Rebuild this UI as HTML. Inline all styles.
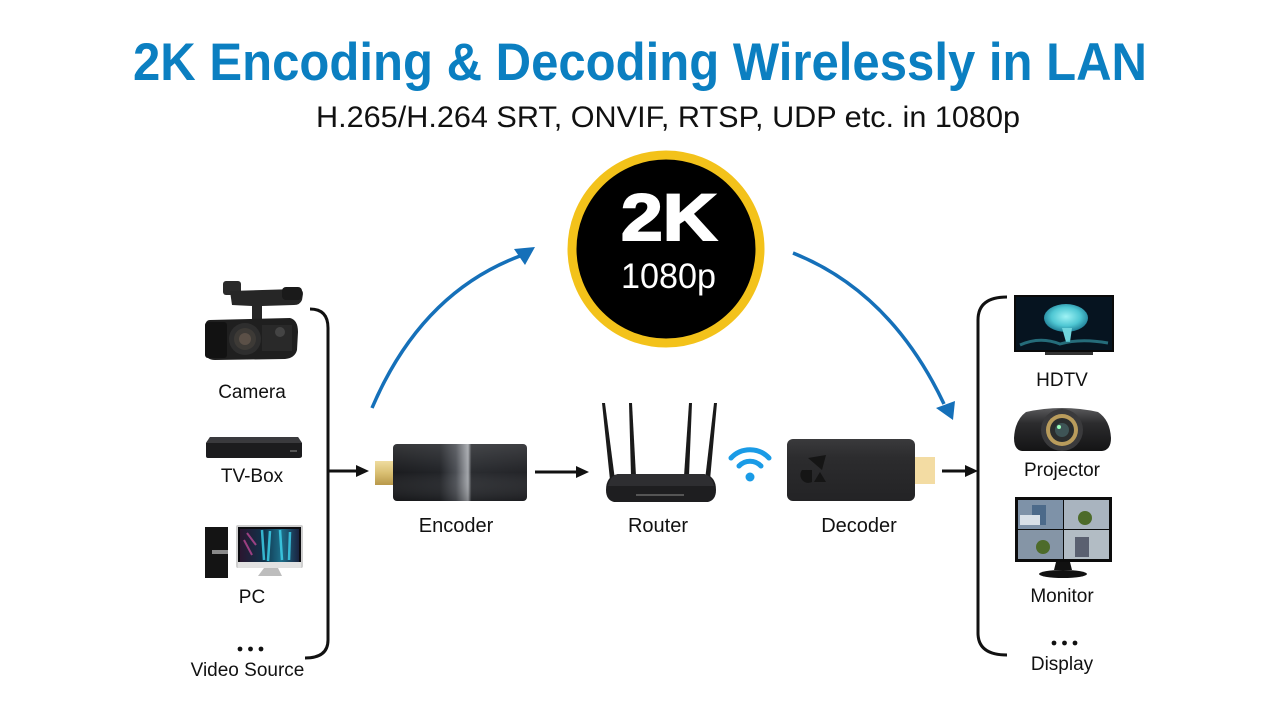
<!DOCTYPE html>
<html><head><meta charset="utf-8">
<style>
html,body{margin:0;padding:0;background:#fff;width:1280px;height:720px;overflow:hidden;}
svg{display:block;}
</style></head><body>
<svg width="1280" height="720" viewBox="0 0 1280 720" xmlns="http://www.w3.org/2000/svg" font-family="'Liberation Sans', Arial, sans-serif">
<defs>
  <linearGradient id="encg" x1="0" x2="1" y1="0" y2="0">
    <stop offset="0" stop-color="#1b1c1f"/>
    <stop offset="0.35" stop-color="#222428"/>
    <stop offset="0.47" stop-color="#4c4f55"/>
    <stop offset="0.56" stop-color="#a3a6ab"/>
    <stop offset="0.585" stop-color="#2a2c30"/>
    <stop offset="1" stop-color="#232428"/>
  </linearGradient>
  <linearGradient id="encv" x1="0" x2="0" y1="0" y2="1">
    <stop offset="0" stop-color="#fff" stop-opacity="0.12"/>
    <stop offset="0.5" stop-color="#fff" stop-opacity="0"/>
    <stop offset="1" stop-color="#000" stop-opacity="0.2"/>
  </linearGradient>
  <linearGradient id="gold" x1="0" x2="0" y1="0" y2="1">
    <stop offset="0" stop-color="#efdc9f"/>
    <stop offset="0.5" stop-color="#d9bf72"/>
    <stop offset="1" stop-color="#b8984a"/>
  </linearGradient>
  <linearGradient id="decg" x1="0" x2="0" y1="0" y2="1">
    <stop offset="0" stop-color="#3a3a3c"/>
    <stop offset="0.3" stop-color="#2c2c2e"/>
    <stop offset="1" stop-color="#232325"/>
  </linearGradient>
  <linearGradient id="pcscr" x1="0" x2="1" y1="0" y2="0">
    <stop offset="0" stop-color="#2a1630"/>
    <stop offset="0.4" stop-color="#10324a"/>
    <stop offset="0.7" stop-color="#1d6f8a"/>
    <stop offset="1" stop-color="#1a2340"/>
  </linearGradient>
  <radialGradient id="brain" cx="0.5" cy="0.45" r="0.55">
    <stop offset="0" stop-color="#9ff3f5"/>
    <stop offset="0.6" stop-color="#4fc7d3"/>
    <stop offset="1" stop-color="#1f7d95"/>
  </radialGradient>
  <linearGradient id="proj" x1="0" x2="0" y1="0" y2="1">
    <stop offset="0" stop-color="#5a5a5c"/>
    <stop offset="0.35" stop-color="#2c2c2e"/>
    <stop offset="1" stop-color="#141415"/>
  </linearGradient>
</defs>

<rect width="1280" height="720" fill="#fff"/>

<!-- Title -->
<text x="133" y="80" font-size="53" font-weight="bold" fill="#0b7fc1" textLength="1014" lengthAdjust="spacingAndGlyphs">2K Encoding &amp; Decoding Wirelessly in LAN</text>
<text x="316" y="127" font-size="30" fill="#111" textLength="704" lengthAdjust="spacingAndGlyphs">H.265/H.264 SRT, ONVIF, RTSP, UDP etc. in 1080p</text>

<!-- 2K circle -->
<circle cx="666" cy="249" r="94" fill="#000" stroke="#f3c21a" stroke-width="9"/>
<text x="621" y="240" font-size="66" font-weight="bold" fill="#fff" stroke="#fff" stroke-width="2" textLength="96" lengthAdjust="spacingAndGlyphs">2K</text>
<text x="621" y="288" font-size="35" fill="#fff" textLength="95" lengthAdjust="spacingAndGlyphs">1080p</text>

<!-- Blue arcs -->
<path d="M372,408 Q421,293 520,256" fill="none" stroke="#1570b9" stroke-width="3.5"/>
<polygon points="535,247 514,249 525,265" fill="#1570b9"/>
<path d="M793,253 Q891,292 944,404" fill="none" stroke="#1570b9" stroke-width="3.5"/>
<polygon points="953,420 936,408 955,401" fill="#1570b9"/>

<!-- Left bracket -->
<path d="M310,309 Q328,309 328,328 L328,640 Q328,658 305,658" fill="none" stroke="#111" stroke-width="3"/>
<!-- Right bracket -->
<path d="M1007,297 Q978,297 978,320 L978,633 Q978,655 1007,655" fill="none" stroke="#111" stroke-width="3"/>

<!-- Black arrows -->
<line x1="329" y1="471" x2="360" y2="471" stroke="#111" stroke-width="3"/>
<polygon points="369,471 356,465 356,477" fill="#111"/>
<line x1="535" y1="472" x2="578" y2="472" stroke="#111" stroke-width="3"/>
<polygon points="589,472 576,466 576,478" fill="#111"/>
<line x1="942" y1="471" x2="968" y2="471" stroke="#111" stroke-width="3"/>
<polygon points="978,471 965,465 965,477" fill="#111"/>

<!-- Camera -->
<g>
  <rect x="223" y="281" width="18" height="14" rx="3" fill="#2a2a2a"/>
  <path d="M230,291 L296,289 Q303,288 303,294 L302,300 Q300,305 294,305 L262,306 L262,320 L252,320 L252,306 L232,305 Z" fill="#262626"/>
  <rect x="282" y="287" width="20" height="13" rx="4" fill="#1a1a1a"/>
  <path d="M210,320 L290,318 Q298,320 298,332 L297,350 Q295,358 285,359 L215,360 Q206,360 205,352 L205,328 Q205,320 210,320 Z" fill="#1f1f1f"/>
  <rect x="205" y="322" width="22" height="36" rx="3" fill="#121212"/>
  <circle cx="245" cy="339" r="16" fill="#2e2e2e"/>
  <circle cx="245" cy="339" r="11" fill="#3d3a36"/>
  <circle cx="245" cy="339" r="6" fill="#5b5047"/>
  <circle cx="280" cy="332" r="5" fill="#555"/>
  <rect x="262" y="325" width="30" height="26" fill="#333" opacity="0.5"/>
</g>
<text x="252" y="398" font-size="19" text-anchor="middle" fill="#111">Camera</text>

<!-- TV-Box -->
<path d="M210,437 L298,437 L302,443 L302,456 Q302,458 299,458 L208,458 Q206,458 206,456 L206,443 Z" fill="#1c1c1e"/>
<path d="M210,437 L298,437 L302,443 L206,443 Z" fill="#3a3a3d"/>
<rect x="290" y="450" width="7" height="2" fill="#555"/>
<text x="252" y="482" font-size="19" text-anchor="middle" fill="#111">TV-Box</text>

<!-- PC -->
<rect x="205" y="527" width="23" height="51" fill="#141414"/>
<rect x="212" y="550" width="16" height="4" fill="#8a8a8a"/>
<rect x="236" y="525" width="67" height="43" rx="2" fill="#cfcfcf"/>
<rect x="238" y="527" width="63" height="39" fill="#0c0c10"/>
<rect x="240" y="529" width="59" height="33" fill="url(#pcscr)"/>
<path d="M262,530 L264,560 M270,531 L268,561 M280,530 L282,560 M290,532 L289,560" stroke="#3fd6f0" stroke-width="2.5" opacity="0.8"/>
<path d="M244,540 L252,555 M247,533 L256,545" stroke="#d04da0" stroke-width="2" opacity="0.7"/>
<rect x="238" y="562" width="63" height="6" fill="#e2e2e2"/>
<path d="M264,568 L278,568 L282,576 L258,576 Z" fill="#bdbdbd"/>
<text x="252" y="603" font-size="19" text-anchor="middle" fill="#111">PC</text>

<!-- left dots -->
<circle cx="240" cy="649" r="2.4" fill="#111"/>
<circle cx="250.5" cy="649" r="2.4" fill="#111"/>
<circle cx="261" cy="649" r="2.4" fill="#111"/>
<text x="247.5" y="676" font-size="19" text-anchor="middle" fill="#111">Video Source</text>

<!-- Encoder -->
<rect x="375" y="461" width="19" height="24" fill="url(#gold)"/>
<rect x="393" y="444" width="134" height="57" rx="4" fill="url(#encg)"/>
<rect x="393" y="444" width="134" height="57" rx="4" fill="url(#encv)"/>
<text x="456" y="532" font-size="20" text-anchor="middle" fill="#111">Encoder</text>

<!-- Router -->
<polygon points="602,403 605,403 615,480 610,480" fill="#1a1a1a"/>
<polygon points="629,403 632,403 636,476 631,476" fill="#1a1a1a"/>
<polygon points="689,403 692,403 689,476 684,476" fill="#1a1a1a"/>
<polygon points="714,403 717,403 710,480 705,480" fill="#1a1a1a"/>
<path d="M618,474 L704,474 Q716,476 716,490 Q716,500 708,502 L614,502 Q606,500 606,490 Q606,476 618,474 Z" fill="#1e1e20"/>
<path d="M618,474 L704,474 Q712,476 714,486 L608,486 Q610,476 618,474 Z" fill="#2e2e31"/>
<rect x="636" y="494" width="48" height="2" fill="#555"/>
<text x="658" y="532" font-size="20" text-anchor="middle" fill="#111">Router</text>

<!-- WiFi -->
<circle cx="750" cy="477" r="4.5" fill="#1a9be6"/>
<path d="M739,466 A15,15 0 0 1 761,466" fill="none" stroke="#1a9be6" stroke-width="5" stroke-linecap="round"/>
<path d="M731,458 A26,26 0 0 1 769,458" fill="none" stroke="#1a9be6" stroke-width="5" stroke-linecap="round"/>

<!-- Decoder -->
<rect x="914" y="457" width="21" height="27" fill="#f3dca3"/>
<rect x="787" y="439" width="128" height="62" rx="6" fill="url(#decg)"/>
<path d="M808,458 L826,455 L822,470 Z" fill="#151515"/>
<path d="M802,470 A8,8 0 0 0 812,482 L812,470 Z" fill="#151515"/>
<path d="M814,482 L826,482 L820,472 Z" fill="#151515"/>
<text x="859" y="532" font-size="20" text-anchor="middle" fill="#111">Decoder</text>

<!-- HDTV -->
<rect x="1014" y="295" width="100" height="57" fill="#0a0a0a"/>
<rect x="1016" y="297" width="96" height="53" fill="#061420"/>
<ellipse cx="1066" cy="318" rx="22" ry="14" fill="url(#brain)"/>
<path d="M1062,328 L1066,342 L1070,342 L1072,328 Z" fill="#6fd5dd"/>
<path d="M1020,345 Q1040,336 1060,344 Q1080,338 1108,343" stroke="#3aa6b8" stroke-width="3" fill="none" opacity="0.6"/>
<rect x="1045" y="352" width="48" height="3" fill="#333"/>
<text x="1062" y="386" font-size="19" text-anchor="middle" fill="#111">HDTV</text>

<!-- Projector -->
<path d="M1026,412 Q1062,404 1098,412 Q1110,420 1111,438 Q1111,450 1102,451 L1022,451 Q1014,450 1014,438 Q1015,420 1026,412 Z" fill="url(#proj)"/>
<circle cx="1062" cy="430" r="21" fill="#3a3a3c"/>
<circle cx="1062" cy="430" r="16" fill="#b99c5c"/>
<circle cx="1062" cy="430" r="12" fill="#2a2d2e"/>
<circle cx="1062" cy="430" r="7" fill="#3e5456"/>
<circle cx="1059" cy="427" r="2" fill="#9fb"/>
<text x="1062" y="476" font-size="19" text-anchor="middle" fill="#111">Projector</text>

<!-- Monitor -->
<rect x="1015" y="497" width="97" height="65" fill="#0c0c0c"/>
<rect x="1018" y="500" width="45" height="29" fill="#7e92a8"/>
<rect x="1064" y="500" width="45" height="29" fill="#a9b4bf"/>
<rect x="1018" y="530" width="45" height="29" fill="#8595a6"/>
<rect x="1064" y="530" width="45" height="29" fill="#b2bcc4"/>
<rect x="1032" y="505" width="14" height="20" fill="#4c6a8a"/>
<circle cx="1085" cy="518" r="7" fill="#4d6b2a"/>
<circle cx="1043" cy="547" r="7" fill="#4d6b2a"/>
<rect x="1075" y="537" width="14" height="20" fill="#5a6070"/>
<rect x="1020" y="515" width="20" height="10" fill="#d8e0e8"/>
<path d="M1056,562 L1070,562 L1072,570 L1054,570 Z" fill="#111"/>
<ellipse cx="1063" cy="574" rx="24" ry="4" fill="#111"/>
<text x="1062" y="602" font-size="19" text-anchor="middle" fill="#111">Monitor</text>

<!-- right dots -->
<circle cx="1054" cy="643" r="2.4" fill="#111"/>
<circle cx="1064.5" cy="643" r="2.4" fill="#111"/>
<circle cx="1075" cy="643" r="2.4" fill="#111"/>
<text x="1062" y="670" font-size="19" text-anchor="middle" fill="#111">Display</text>
</svg>
</body></html>
